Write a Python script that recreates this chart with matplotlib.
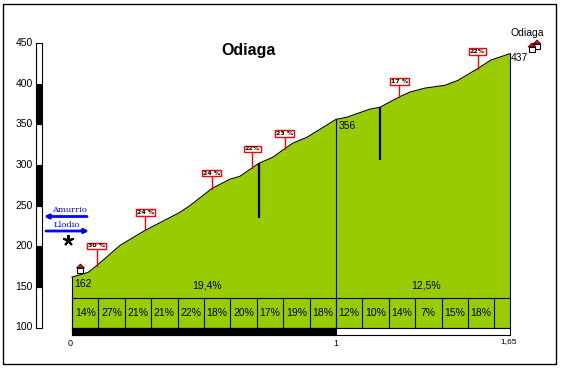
import numpy as np
import matplotlib
matplotlib.use('Agg')
import matplotlib.pyplot as plt
from matplotlib.patches import Rectangle, Polygon

plt.rcParams['font.family'] = ['Liberation Sans', 'DejaVu Sans']

# perfil
dist = [0, .061, .095, .182, .277, .409, .447, .530, .598, .636, .708, .761, .803, .837, .890, 1.0,
        1.042, 1.129, 1.167, 1.239, 1.28, 1.337, 1.413, 1.462, 1.534, 1.587, 1.66]
alt = [162, 167.8, 176.4, 201, 219.5, 241.7, 250, 271, 282.4, 286, 302, 309.5, 319.4, 326.8, 334, 356,
       358.8, 368.7, 371, 383.5, 389.6, 394.5, 398, 404, 418, 429, 437]

# pendiente por tramo de 100 m
tramos = ['14%', '27%', '21%', '21%', '22%', '18%', '20%', '17%', '19%', '18%',
          '12%', '10%', '14%', '7%', '15%', '18%', '']
medias = ['19,4%', '12,5%']
medias_x = [.51, 1.34]

# banderas de pendiente maxima
flag_km = [.093, .278, .530, .682, .805, 1.240, 1.536]
flag_base = [176, 220, 271, 296, 319, 383.5, 418]
flag_top = [200.3, 242, 290, 319.6, 339, 403, 440]
flag_txt = ['30 %', '24 %', '24 %', '22%', '23 %', '17 %', '22%']

esc_y = [100, 150, 200, 250, 300, 350, 400, 450]
puntos = [(0, '162'), (1, '356'), (1.66, '437')]

# pixel -> datos
def kmx(px):
    return (px - 72) / 264
def aly(py):
    return 100 + (327.5 - py) * 350 / 284.5

GREEN = '#99CC00'

fig = plt.figure(figsize=(5.62, 3.69), dpi=100)
ax = fig.add_axes([0, 0, 1, 1])
ax.set_xlim(kmx(0), kmx(562))
ax.set_ylim(aly(369), aly(0))
ax.axis('off')

# marco
ax.add_patch(Rectangle((kmx(3.5), aly(363.5)), kmx(555.5) - kmx(3.5), aly(3.5) - aly(363.5), fc='white', ec='black', lw=1))

# escala vertical
for i in range(len(esc_y) - 1):
    c = 'white' if i % 2 == 0 else 'black'
    ax.add_patch(Rectangle((kmx(36.5), esc_y[i]), kmx(42.5) - kmx(36.5), 50, fc=c, ec='black', lw=.8))
for v in esc_y:
    ax.text(kmx(33), v, str(v), ha='right', va='center', fontsize=7.5)

# perfil relleno
base = aly(328)
ax.fill_between(dist, alt, base, color=GREEN, lw=0, zorder=2)
ax.plot(dist, alt, color='black', lw=.8, zorder=3)
ax.plot([dist[-1], dist[-1]], [base, alt[-1]], color='black', lw=.8, zorder=3)
ax.plot([0, 0], [base, alt[0]], color='black', lw=.8, zorder=3)
ax.plot([1, 1], [base, alt[15]], color='black', lw=.8, zorder=3)

# tabla de tramos
top_t = aly(298)
ax.plot([0, dist[-1]], [top_t, top_t], color='black', lw=.8, zorder=3)
ax.plot([0, dist[-1]], [base, base], color='black', lw=.8, zorder=3)
for i, t in enumerate(tramos):
    x = i * .1
    ax.plot([x, x], [base, top_t], color='black', lw=.8, zorder=3)
    ax.text(x + .05, aly(313.5), t, ha='center', va='center', fontsize=7.5, zorder=4)
for x, t in zip(medias_x, medias):
    ax.text(x, aly(285), t, ha='center', va='center', fontsize=7.5, zorder=4)

# barra de distancia
ax.add_patch(Rectangle((0, aly(334.5)), dist[-1], base - aly(334.5), fc='white', ec='black', lw=.8, zorder=3))
ax.add_patch(Rectangle((0, aly(334.5)), 1, base - aly(334.5), fc='black', ec='black', lw=.8, zorder=3))
ax.text(kmx(70), aly(344), '0', ha='center', va='center', fontsize=6.5)
ax.text(kmx(336), aly(344), '1', ha='center', va='center', fontsize=6.5)
ax.text(kmx(509), aly(342), '1,65', ha='center', va='center', fontsize=6)

# cotas
ax.text(kmx(74), aly(284), puntos[0][1], ha='left', va='center', fontsize=7.5, zorder=4)
ax.text(kmx(339), aly(126), puntos[1][1], ha='left', va='center', fontsize=7.5, zorder=4)
ax.text(kmx(511), aly(58), puntos[2][1], ha='left', va='center', fontsize=7.5, zorder=4)

# marcas gruesas
ax.plot([kmx(259), kmx(259)], [aly(163), aly(218)], color='black', lw=1.6, zorder=4, solid_capstyle='butt')
ax.plot([kmx(380), kmx(380)], [aly(107), aly(160)], color='black', lw=1.6, zorder=4, solid_capstyle='butt')

# banderas
for x, b, t, s in zip(flag_km, flag_base, flag_top, flag_txt):
    ax.plot([x, x], [b, t], color='red', lw=1, zorder=3)
    ax.text(x, t, s, ha='center', va='center', fontsize=4.5, fontweight='bold', zorder=5, family='DejaVu Sans',
            bbox=dict(boxstyle='square,pad=0.15', fc='white', ec='red', lw=1))

# titulo
ax.text(kmx(249), aly(50), 'Odiaga', ha='center', va='center', fontsize=11.5, fontweight='bold')
ax.text(kmx(527), aly(33), 'Odiaga', ha='center', va='center', fontsize=7.5)

# flechas Amurrio / Llodio
ax.annotate('', xy=(kmx(44), aly(216.5)), xytext=(kmx(87), aly(216.5)),
            arrowprops=dict(arrowstyle='-|>', color='#0000FF', lw=2, mutation_scale=6, shrinkA=0, shrinkB=0))
ax.annotate('', xy=(kmx(89), aly(231)), xytext=(kmx(46), aly(231)),
            arrowprops=dict(arrowstyle='-|>', color='#0000FF', lw=2, mutation_scale=6, shrinkA=0, shrinkB=0))
ax.text(kmx(69), aly(210), 'Amurrio', ha='center', va='center', fontsize=6, color='#0000FF', family='DejaVu Serif')
ax.text(kmx(67), aly(225), 'Llodio', ha='center', va='center', fontsize=6, color='#0000FF', family='DejaVu Serif')
ax.plot([kmx(68.5)], [aly(240)], marker=(5, 2), ms=8, mew=1.4, color='black')

# casas
def casa(px, py):
    ax.add_patch(Rectangle((kmx(px - 3), aly(py + 5)), kmx(px + 3) - kmx(px - 3), aly(py) - aly(py + 5), fc='white', ec='black', lw=.8, zorder=6))
    ax.add_patch(Polygon([(kmx(px - 4), aly(py)), (kmx(px), aly(py - 4)), (kmx(px + 4), aly(py))], fc='red', ec='black', lw=.5, zorder=6))

casa(80.5, 268)
casa(537, 44)
casa(532, 47)

fig.savefig('out.png', dpi=100, facecolor='white')
